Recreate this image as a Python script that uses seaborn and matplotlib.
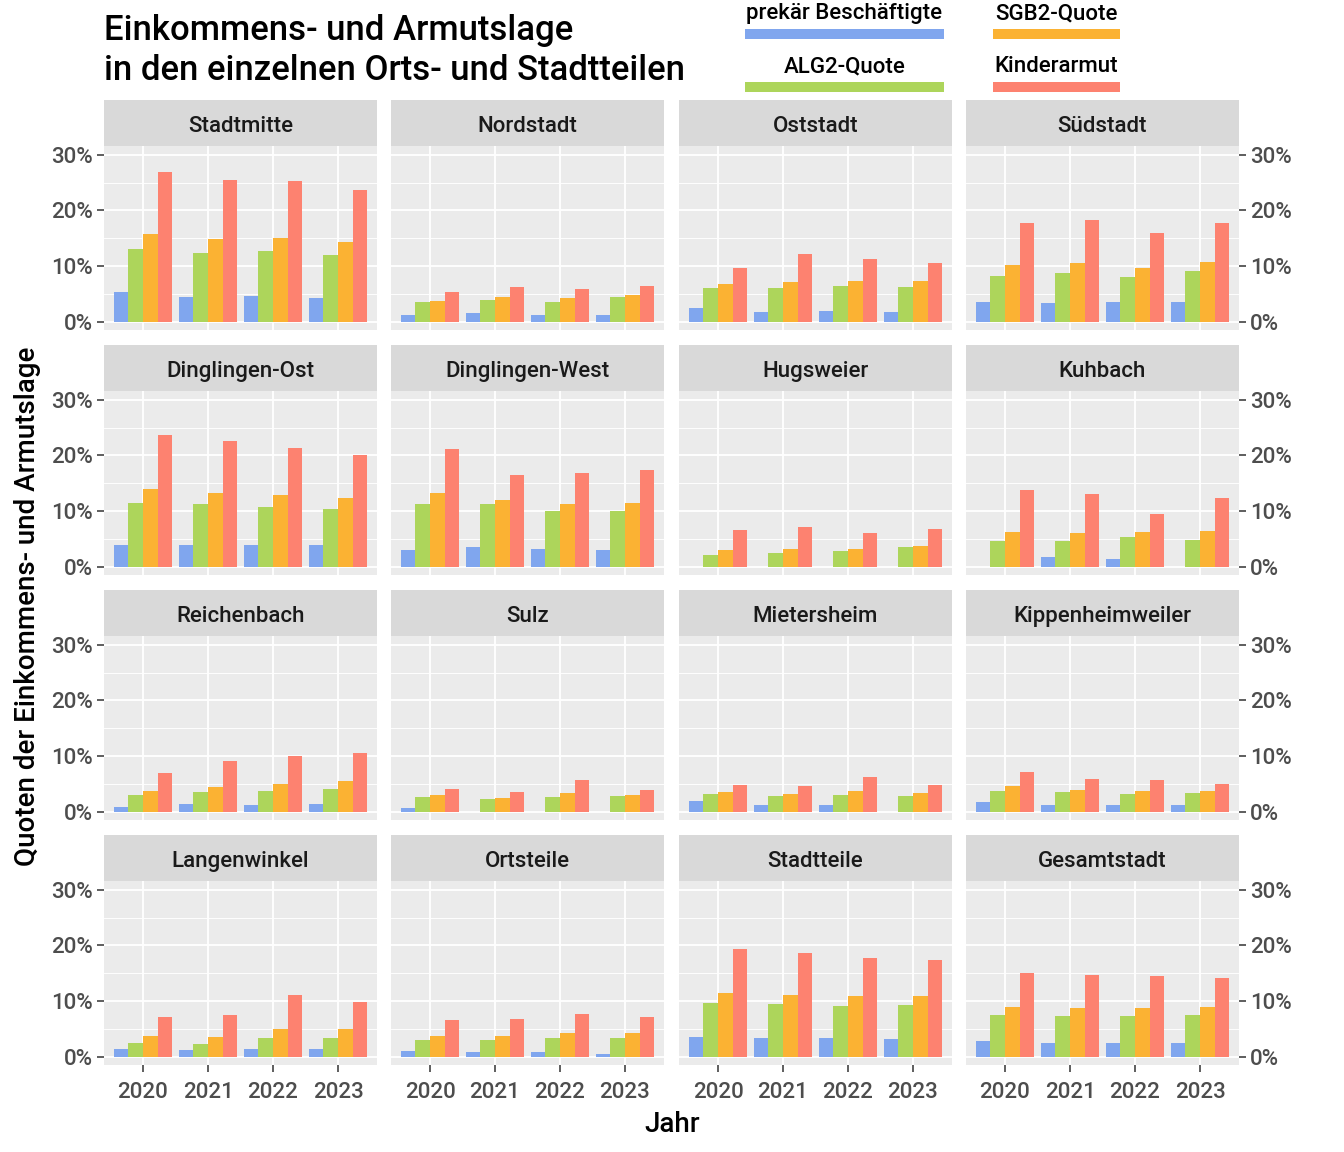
import numpy as np
import pandas as pd
import matplotlib
matplotlib.use("Agg")
import matplotlib.pyplot as plt
import matplotlib.patches as mpatches
from matplotlib.ticker import FuncFormatter, MultipleLocator
import seaborn as sns
from matplotlib import font_manager

# ---------------- data ----------------
years = ["2020", "2021", "2022", "2023"]
indicators = ["prekär Beschäftigte", "ALG2-Quote", "SGB2-Quote", "Kinderarmut"]
places = ["Stadtmitte", "Nordstadt", "Oststadt", "Südstadt",
          "Dinglingen-Ost", "Dinglingen-West", "Hugsweier", "Kuhbach",
          "Reichenbach", "Sulz", "Mietersheim", "Kippenheimweiler",
          "Langenwinkel", "Ortsteile", "Stadtteile", "Gesamtstadt"]

nan = np.nan
# values in percent, per place: one value per year
prekaer = {
    "Stadtmitte": [5.3, 4.4, 4.6, 4.25], "Nordstadt": [1.2, 1.55, 1.2, 1.2],
    "Oststadt": [2.45, 1.75, 1.9, 1.75], "Südstadt": [3.5, 3.35, 3.5, 3.5],
    "Dinglingen-Ost": [3.9, 3.9, 3.9, 3.9], "Dinglingen-West": [3.0, 3.5, 3.2, 3.0],
    "Hugsweier": [nan, nan, nan, nan], "Kuhbach": [nan, 1.75, 1.4, nan],
    "Reichenbach": [0.85, 1.4, 1.2, 1.4], "Sulz": [0.65, nan, nan, nan],
    "Mietersheim": [1.9, 1.2, 1.2, nan], "Kippenheimweiler": [1.75, 1.2, 1.2, 1.2],
    "Langenwinkel": [1.4, 1.2, 1.4, 1.4], "Ortsteile": [1.0, 0.85, 0.85, 0.5],
    "Stadtteile": [3.5, 3.35, 3.35, 3.2], "Gesamtstadt": [2.8, 2.45, 2.45, 2.45],
}
alg2 = {
    "Stadtmitte": [13.05, 12.3, 12.7, 12.0], "Nordstadt": [3.5, 3.9, 3.5, 4.4],
    "Oststadt": [6.05, 6.05, 6.4, 6.2], "Südstadt": [8.2, 8.75, 8.0, 9.1],
    "Dinglingen-Ost": [11.45, 11.25, 10.7, 10.35], "Dinglingen-West": [11.25, 11.25, 10.0, 10.0],
    "Hugsweier": [2.1, 2.45, 2.8, 3.5], "Kuhbach": [4.6, 4.6, 5.3, 4.8],
    "Reichenbach": [3.0, 3.5, 3.7, 4.05], "Sulz": [2.65, 2.3, 2.65, 2.8],
    "Mietersheim": [3.2, 2.8, 3.0, 2.8], "Kippenheimweiler": [3.7, 3.5, 3.2, 3.35],
    "Langenwinkel": [2.45, 2.3, 3.35, 3.35], "Ortsteile": [3.0, 3.0, 3.35, 3.35],
    "Stadtteile": [9.65, 9.45, 9.1, 9.3], "Gesamtstadt": [7.5, 7.3, 7.3, 7.5],
}
sgb2 = {
    "Stadtmitte": [15.7, 14.85, 15.0, 14.3], "Nordstadt": [3.7, 4.4, 4.25, 4.8],
    "Oststadt": [6.75, 7.1, 7.3, 7.3], "Südstadt": [10.2, 10.55, 9.65, 10.7],
    "Dinglingen-Ost": [13.95, 13.25, 12.9, 12.35], "Dinglingen-West": [13.25, 12.0, 11.25, 11.45],
    "Hugsweier": [3.0, 3.2, 3.2, 3.7], "Kuhbach": [6.2, 6.05, 6.2, 6.4],
    "Reichenbach": [3.7, 4.4, 5.0, 5.5], "Sulz": [3.0, 2.45, 3.35, 3.0],
    "Mietersheim": [3.5, 3.2, 3.7, 3.35], "Kippenheimweiler": [4.6, 3.9, 3.7, 3.7],
    "Langenwinkel": [3.7, 3.5, 5.0, 5.0], "Ortsteile": [3.7, 3.7, 4.25, 4.25],
    "Stadtteile": [11.45, 11.1, 10.9, 10.9], "Gesamtstadt": [8.9, 8.75, 8.75, 8.9],
}
kinder = {
    "Stadtmitte": [26.9, 25.4, 25.3, 23.65], "Nordstadt": [5.3, 6.2, 5.9, 6.4],
    "Oststadt": [9.65, 12.15, 11.25, 10.5], "Südstadt": [17.7, 18.25, 15.9, 17.7],
    "Dinglingen-Ost": [23.65, 22.6, 21.3, 20.05], "Dinglingen-West": [21.15, 16.5, 16.8, 17.35],
    "Hugsweier": [6.6, 7.1, 6.05, 6.75], "Kuhbach": [13.75, 13.05, 9.45, 12.35],
    "Reichenbach": [6.95, 9.1, 10.0, 10.55], "Sulz": [4.05, 3.5, 5.7, 3.9],
    "Mietersheim": [4.8, 4.6, 6.2, 4.8], "Kippenheimweiler": [7.1, 5.9, 5.7, 5.0],
    "Langenwinkel": [7.1, 7.5, 11.1, 9.8], "Ortsteile": [6.6, 6.75, 7.65, 7.1],
    "Stadtteile": [19.35, 18.6, 17.7, 17.35], "Gesamtstadt": [15.0, 14.65, 14.5, 14.15],
}
colors = ["#80A6EE", "#ADD55B", "#FBB233", "#FD8270"]

series = {"prekär Beschäftigte": prekaer, "ALG2-Quote": alg2,
          "SGB2-Quote": sgb2, "Kinderarmut": kinder}
rows = []
for ind, d in series.items():
    for p in places:
        for y, v in zip(years, d[p]):
            rows.append({"Ort": p, "Jahr": y, "Indikator": ind, "Wert": v})
df = pd.DataFrame(rows)

# ---------------- style ----------------
names = {f.name for f in font_manager.fontManager.ttflist}
base_font = "Roboto" if "Roboto" in names else "DejaVu Sans"
plt.rcParams["font.family"] = [base_font, "DejaVu Sans"]
plt.rcParams["font.weight"] = 500

W, H = 1344, 1152
fig = plt.figure(figsize=(W / 100, H / 100), dpi=100)
fig.patch.set_facecolor("white")


def fr(x, y, w, h):
    return [x / W, 1 - (y + h) / H, w / W, h / H]


col_left = [104, 391, 679, 966]
row_top = [146, 391, 636, 881]
pw, ph, sh = 273, 184, 46
tick_col = "#4D4D4D"
TS = 16

for i, place in enumerate(places):
    r, c = divmod(i, 4)
    ax = fig.add_axes(fr(col_left[c], row_top[r], pw, ph))
    sub = df[df["Ort"] == place]
    sns.barplot(data=sub, x="Jahr", y="Wert", hue="Indikator",
                hue_order=indicators, order=years, palette=colors,
                width=0.9, errorbar=None, saturation=1, legend=False,
                linewidth=0, ax=ax)
    ax.set_xlim(-0.6, 3.6)
    ax.set_ylim(-1.5, 31.6)
    ax.set_facecolor("#EBEBEB")
    for s in ax.spines.values():
        s.set_visible(False)
    ax.yaxis.set_major_locator(MultipleLocator(10))
    ax.yaxis.set_minor_locator(MultipleLocator(5))
    ax.yaxis.set_major_formatter(FuncFormatter(lambda v, p: f"{v:.0f}%"))
    ax.grid(which="major", axis="both", color="white", linewidth=1.3)
    ax.grid(which="minor", axis="y", color="white", linewidth=0.65)
    ax.set_axisbelow(True)
    ax.set_xlabel("")
    ax.set_ylabel("")
    ax.tick_params(axis="both", which="minor", length=0)
    ax.tick_params(axis="both", which="major", colors="#333333",
                   labelcolor=tick_col, labelsize=TS, length=5, width=1.1, pad=3)
    if c == 0:
        ax.tick_params(axis="y", left=True, labelleft=True, right=False, labelright=False)
    elif c == 3:
        ax.yaxis.tick_right()
        ax.tick_params(axis="y", left=False, labelleft=False, right=True, labelright=True)
    else:
        ax.tick_params(axis="y", left=False, labelleft=False, right=False, labelright=False)
    if r == 3:
        ax.tick_params(axis="x", bottom=True, labelbottom=True, pad=7)
    else:
        ax.tick_params(axis="x", bottom=False, labelbottom=False)
    # strip
    sax = fig.add_axes(fr(col_left[c], row_top[r] - sh, pw, sh))
    sax.set_facecolor("#D9D9D9")
    sax.set_xticks([])
    sax.set_yticks([])
    for s in sax.spines.values():
        s.set_visible(False)
    sax.text(0.5, 0.42, place, ha="center", va="center", fontsize=16,
             color="#1A1A1A", transform=sax.transAxes)

# axis titles
fig.text(28 / W, 1 - 606 / H, "Quoten der Einkommens- und Armutslage",
         rotation=90, ha="center", va="center", fontsize=20, color="black")
fig.text(672 / W, 1 - 1124 / H, "Jahr", ha="center", va="center",
         fontsize=20, color="black")

# title
fig.text(104 / W, 1 - 14 / H,
         "Einkommens- und Armutslage\nin den einzelnen Orts- und Stadtteilen",
         ha="left", va="top", fontsize=25, color="black", linespacing=1.25,
         fontweight=500)

# legend (top right)
leg_items = [("prekär Beschäftigte", colors[0], 745, 944, 14, 29),
             ("SGB2-Quote", colors[2], 993, 1120, 14, 29),
             ("ALG2-Quote", colors[1], 745, 944, 67, 82),
             ("Kinderarmut", colors[3], 993, 1120, 67, 82)]
for lab, col, x0, x1, ty, ry in leg_items:
    fig.text((x0 + x1) / 2 / W, 1 - ty / H, lab, ha="center", va="center",
             fontsize=16, color="black")
    fig.patches.append(mpatches.Rectangle((x0 / W, 1 - (ry + 10) / H),
                                          (x1 - x0) / W, 10 / H,
                                          transform=fig.transFigure,
                                          facecolor=col, edgecolor="none"))

fig.savefig("out.png", dpi=100)
